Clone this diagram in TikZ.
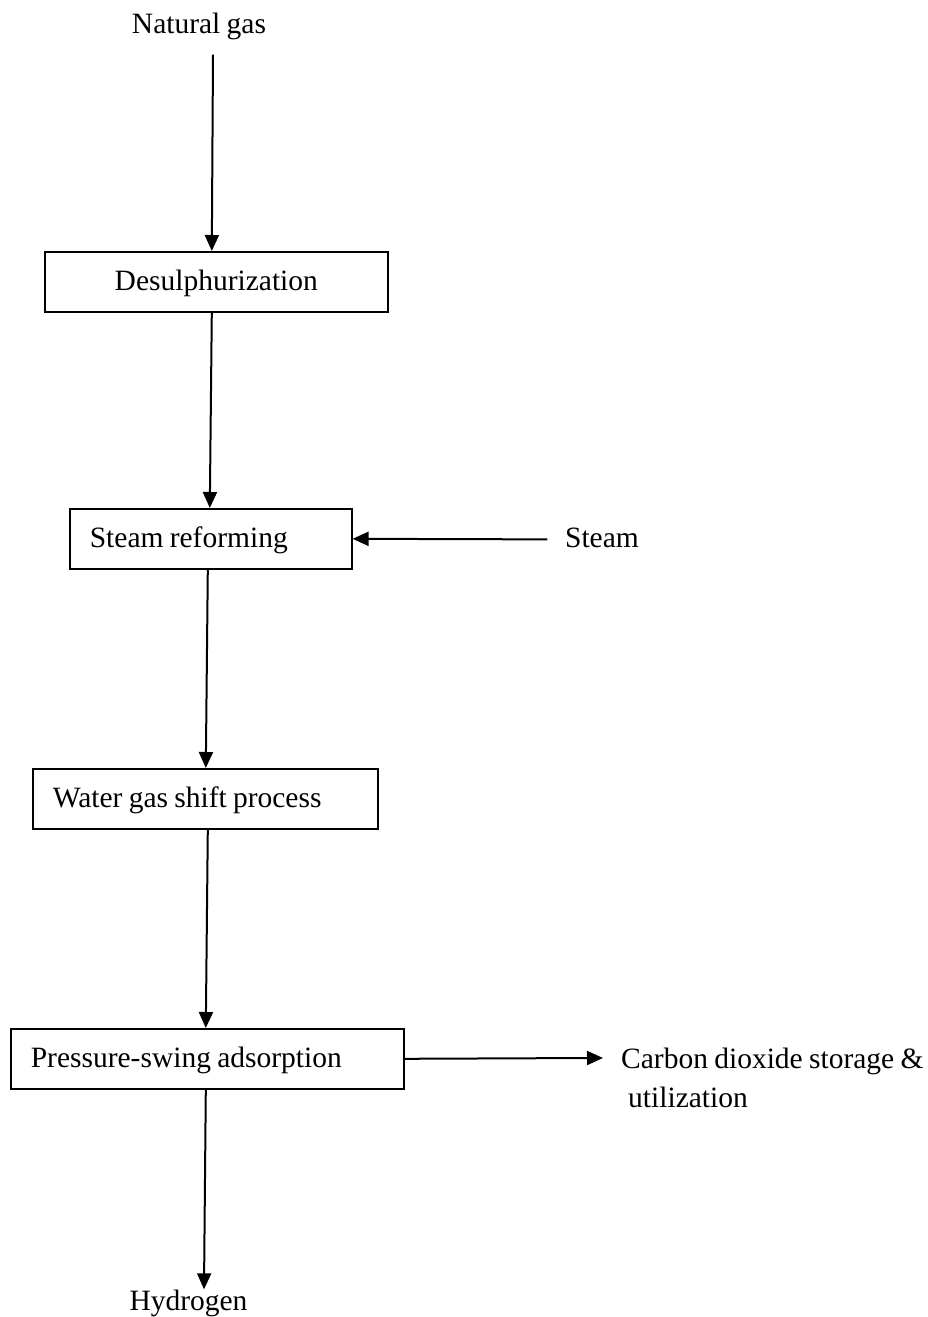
\documentclass[tikz,border=0pt]{standalone}
\usepackage{fontspec}
\setmainfont[WordSpace=0.85]{Liberation Serif}
\usetikzlibrary{arrows.meta}
\begin{document}
\begin{tikzpicture}[x=1pt,y=-1pt,
  every node/.style={font=\fontsize{29.5}{36}\selectfont, inner sep=0pt},
  box/.style={draw, line width=1.6pt, anchor=north west, minimum height=60pt, inner xsep=20pt, inner ysep=0pt, text height=22pt, text depth=4pt},
  lbl/.style={anchor=base},
  arr/.style={line width=2pt, -{Triangle[length=16pt,width=14pt]}}]
\useasboundingbox (0,0) rectangle (927,1317);
% text terminals
\node[lbl] (ng) at (199,33) {Natural gas};
\node[lbl] (st) at (602,547) {Steam};
\node[anchor=base west] (c1) at (621,1068) {Carbon dioxide storage \&};
\node[anchor=base west] (c2) at (628,1107) {utilization};
\node[lbl] (h) at (188.5,1310) {Hydrogen};
% boxes
\node[box] (des) at (44,251) {\makebox[303pt][c]{Desulphurization}};
\node[box] (sr) at (69,508) {\makebox[242pt][l]{Steam reforming}};
\node[box] (wg) at (32,768) {\makebox[305pt][l]{Water gas shift process}};
\node[box] (psa) at (10,1028) {\makebox[353pt][l]{Pressure-swing adsorption}};
% connectors
\draw[arr] ([xshift=14pt,yshift=-15pt]ng.south) -- ([xshift=-4.5pt]des.north);
\draw[arr] ([xshift=-4.5pt]des.south) -- ([xshift=-1pt]sr.north);
\draw[arr] ([xshift=-3pt]sr.south) -- ([xshift=0.5pt]wg.north);
\draw[arr] ([xshift=2.5pt]wg.south) -- ([xshift=-1.5pt]psa.north);
\draw[arr] ([xshift=-1.5pt]psa.south) -- ([xshift=15.5pt]h.north);
\draw[arr] ([xshift=-17.5pt,yshift=-2pt]st.west) -- (sr.east);
\draw[arr] (psa.east) -- ([xshift=-18pt,yshift=3pt]c1.west);
\end{tikzpicture}
\end{document}
